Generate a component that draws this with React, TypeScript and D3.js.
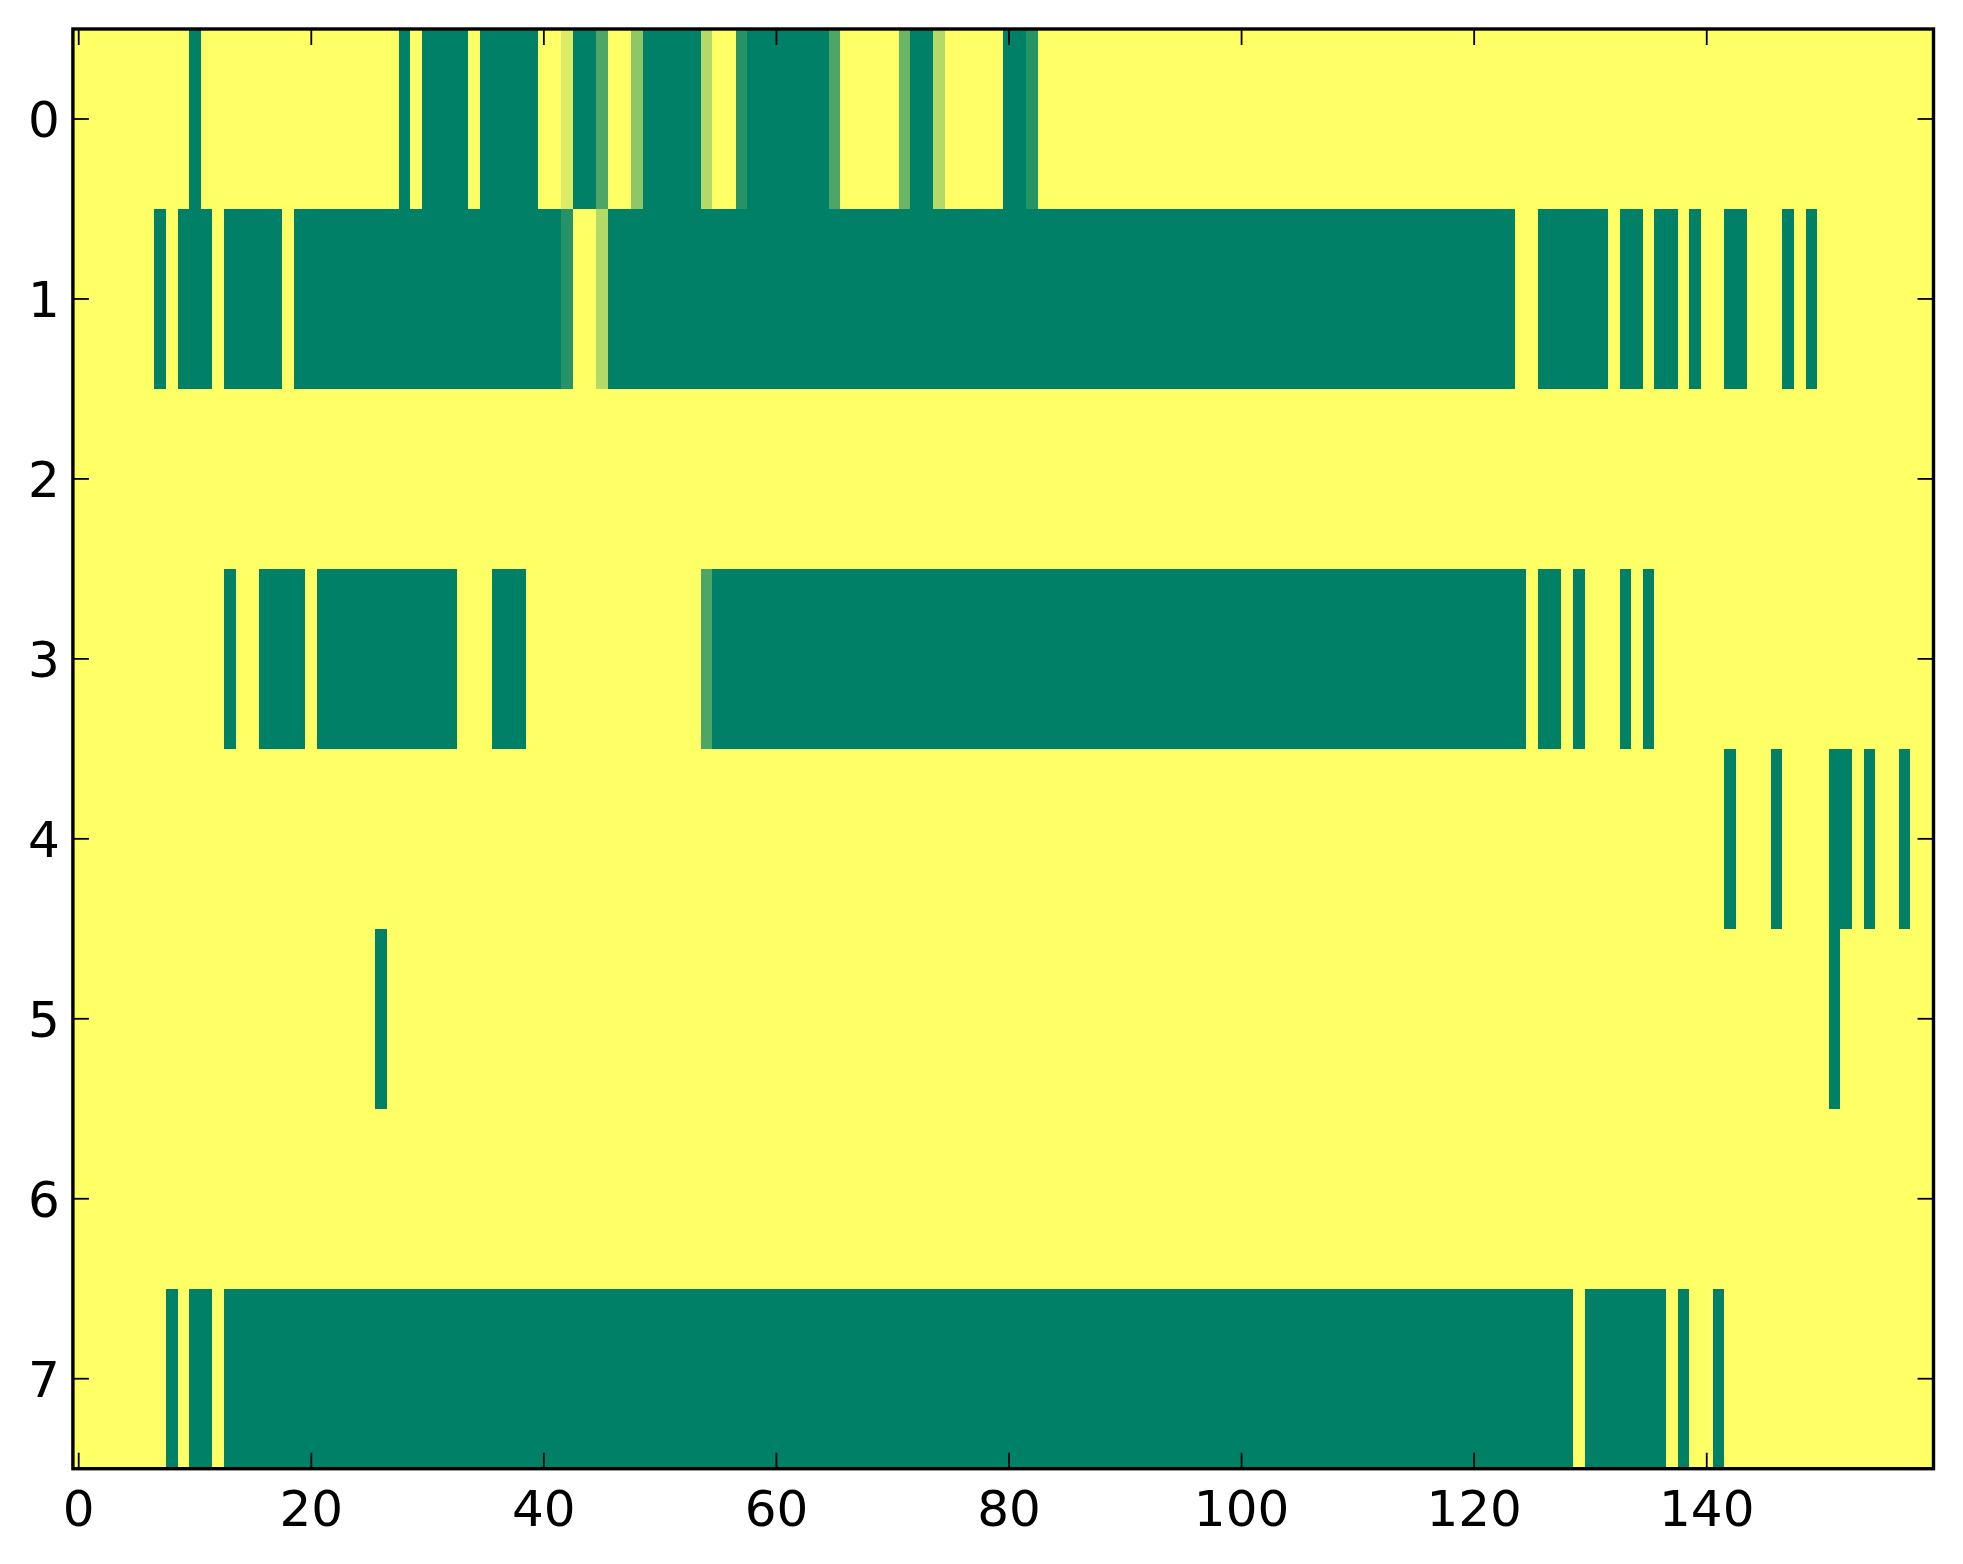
import React from "react";
import * as d3 from "d3";

// Matrix rows (160 columns each); values mapped through the "summer" colormap
const row0 = [
  1,1,1,1,1,1,1,1,1,1,0,1,1,1,1,1,1,1,1,1,
  1,1,1,1,1,1,1,1,0,1,0,0,0,0,1,0,0,0,0,0,
  1,1,0.86,0,0,0.3,1,1,0.56,0,0,0,0,0,0.7,1,1,0.15,0,0,
  0,0,0,0,0,0.3,1,1,1,1,1,0.42,0,0,0.7,1,1,1,1,1,
  0,0,0.15,1,1,1,1,1,1,1,1,1,1,1,1,1,1,1,1,1,
  1,1,1,1,1,1,1,1,1,1,1,1,1,1,1,1,1,1,1,1,
  1,1,1,1,1,1,1,1,1,1,1,1,1,1,1,1,1,1,1,1,
  1,1,1,1,1,1,1,1,1,1,1,1,1,1,1,1,1,1,1,1,
];
const row1 = [
  1,1,1,1,1,1,1,0,1,0,0,0,1,0,0,0,0,0,1,0,
  0,0,0,0,0,0,0,0,0,0,0,0,0,0,0,0,0,0,0,0,
  0,0,0.15,1,1,0.7,0,0,0,0,0,0,0,0,0,0,0,0,0,0,
  0,0,0,0,0,0,0,0,0,0,0,0,0,0,0,0,0,0,0,0,
  0,0,0,0,0,0,0,0,0,0,0,0,0,0,0,0,0,0,0,0,
  0,0,0,0,0,0,0,0,0,0,0,0,0,0,0,0,0,0,0,0,
  0,0,0,0,1,1,0,0,0,0,0,0,1,0,0,1,0,0,1,0,
  1,1,0,0,1,1,1,0,1,0,1,1,1,1,1,1,1,1,1,1,
];
const row2 = [
  1,1,1,1,1,1,1,1,1,1,1,1,1,1,1,1,1,1,1,1,
  1,1,1,1,1,1,1,1,1,1,1,1,1,1,1,1,1,1,1,1,
  1,1,1,1,1,1,1,1,1,1,1,1,1,1,1,1,1,1,1,1,
  1,1,1,1,1,1,1,1,1,1,1,1,1,1,1,1,1,1,1,1,
  1,1,1,1,1,1,1,1,1,1,1,1,1,1,1,1,1,1,1,1,
  1,1,1,1,1,1,1,1,1,1,1,1,1,1,1,1,1,1,1,1,
  1,1,1,1,1,1,1,1,1,1,1,1,1,1,1,1,1,1,1,1,
  1,1,1,1,1,1,1,1,1,1,1,1,1,1,1,1,1,1,1,1,
];
const row3 = [
  1,1,1,1,1,1,1,1,1,1,1,1,1,0,1,1,0,0,0,0,
  1,0,0,0,0,0,0,0,0,0,0,0,0,1,1,1,0,0,0,1,
  1,1,1,1,1,1,1,1,1,1,1,1,1,1,0.3,0,0,0,0,0,
  0,0,0,0,0,0,0,0,0,0,0,0,0,0,0,0,0,0,0,0,
  0,0,0,0,0,0,0,0,0,0,0,0,0,0,0,0,0,0,0,0,
  0,0,0,0,0,0,0,0,0,0,0,0,0,0,0,0,0,0,0,0,
  0,0,0,0,0,1,0,0,1,0,1,1,1,0,1,0,1,1,1,1,
  1,1,1,1,1,1,1,1,1,1,1,1,1,1,1,1,1,1,1,1,
];
const row4 = [
  1,1,1,1,1,1,1,1,1,1,1,1,1,1,1,1,1,1,1,1,
  1,1,1,1,1,1,1,1,1,1,1,1,1,1,1,1,1,1,1,1,
  1,1,1,1,1,1,1,1,1,1,1,1,1,1,1,1,1,1,1,1,
  1,1,1,1,1,1,1,1,1,1,1,1,1,1,1,1,1,1,1,1,
  1,1,1,1,1,1,1,1,1,1,1,1,1,1,1,1,1,1,1,1,
  1,1,1,1,1,1,1,1,1,1,1,1,1,1,1,1,1,1,1,1,
  1,1,1,1,1,1,1,1,1,1,1,1,1,1,1,1,1,1,1,1,
  1,1,0,1,1,1,0,1,1,1,1,0,0,1,0,1,1,0,1,1,
];
const row5 = [
  1,1,1,1,1,1,1,1,1,1,1,1,1,1,1,1,1,1,1,1,
  1,1,1,1,1,1,0,1,1,1,1,1,1,1,1,1,1,1,1,1,
  1,1,1,1,1,1,1,1,1,1,1,1,1,1,1,1,1,1,1,1,
  1,1,1,1,1,1,1,1,1,1,1,1,1,1,1,1,1,1,1,1,
  1,1,1,1,1,1,1,1,1,1,1,1,1,1,1,1,1,1,1,1,
  1,1,1,1,1,1,1,1,1,1,1,1,1,1,1,1,1,1,1,1,
  1,1,1,1,1,1,1,1,1,1,1,1,1,1,1,1,1,1,1,1,
  1,1,1,1,1,1,1,1,1,1,1,0,1,1,1,1,1,1,1,1,
];
const row6 = [
  1,1,1,1,1,1,1,1,1,1,1,1,1,1,1,1,1,1,1,1,
  1,1,1,1,1,1,1,1,1,1,1,1,1,1,1,1,1,1,1,1,
  1,1,1,1,1,1,1,1,1,1,1,1,1,1,1,1,1,1,1,1,
  1,1,1,1,1,1,1,1,1,1,1,1,1,1,1,1,1,1,1,1,
  1,1,1,1,1,1,1,1,1,1,1,1,1,1,1,1,1,1,1,1,
  1,1,1,1,1,1,1,1,1,1,1,1,1,1,1,1,1,1,1,1,
  1,1,1,1,1,1,1,1,1,1,1,1,1,1,1,1,1,1,1,1,
  1,1,1,1,1,1,1,1,1,1,1,1,1,1,1,1,1,1,1,1,
];
const row7 = [
  1,1,1,1,1,1,1,1,0,1,0,0,1,0,0,0,0,0,0,0,
  0,0,0,0,0,0,0,0,0,0,0,0,0,0,0,0,0,0,0,0,
  0,0,0,0,0,0,0,0,0,0,0,0,0,0,0,0,0,0,0,0,
  0,0,0,0,0,0,0,0,0,0,0,0,0,0,0,0,0,0,0,0,
  0,0,0,0,0,0,0,0,0,0,0,0,0,0,0,0,0,0,0,0,
  0,0,0,0,0,0,0,0,0,0,0,0,0,0,0,0,0,0,0,0,
  0,0,0,0,0,0,0,0,0,1,0,0,0,0,0,0,0,1,0,1,
  1,0,1,1,1,1,1,1,1,1,1,1,1,1,1,1,1,1,1,1,
];

const rows = [row0, row1, row2, row3, row4, row5, row6, row7];
const xTicks = [0, 20, 40, 60, 80, 100, 120, 140];
const yTicks = [0, 1, 2, 3, 4, 5, 6, 7];

const W = 1963;
const H = 1564;
const LEFT = 72.9;
const RIGHT = 1933.5;
const TOP = 29;
const BOTTOM = 1468.7;
const FONT = 50;
const TICK_LEN = 16;

export default function App() {
  const nCols = row0.length;
  const nRows = rows.length;
  const x = d3.scaleLinear().domain([-0.5, nCols - 0.5]).range([LEFT, RIGHT]);
  const y = d3.scaleLinear().domain([-0.5, nRows - 0.5]).range([TOP, BOTTOM]);
  // matplotlib "summer" colormap: (v, 0.5 + 0.5v, 0.4)
  const color = d3
    .scaleLinear<string>()
    .domain([0, 1])
    .range(["rgb(0,128,102)", "rgb(255,255,102)"])
    .interpolate(d3.interpolateRgb);

  const cells: React.ReactNode[] = [];
  rows.forEach((row, i) => {
    row.forEach((v, j) => {
      const x0 = x(j - 0.5);
      const x1 = x(j + 0.5);
      const y0 = y(i - 0.5);
      const y1 = y(i + 0.5);
      cells.push(
        <rect
          key={`${i}-${j}`}
          x={x0}
          y={y0}
          width={x1 - x0 + 0.6}
          height={y1 - y0 + 0.6}
          fill={color(v)}
        />
      );
    });
  });

  const font = "'DejaVu Sans', sans-serif";
  return (
    <svg
      width={W}
      height={H}
      style={{ position: "absolute", left: 0, top: 0, background: "#fff" }}
    >
      <rect x={0} y={0} width={W} height={H} fill="#fff" />
      <g shapeRendering="crispEdges">{cells}</g>
      {/* ticks */}
      <g stroke="#000" strokeWidth={1.8}>
        {xTicks.map((t) => (
          <g key={`xt${t}`}>
            <line x1={x(t)} x2={x(t)} y1={BOTTOM} y2={BOTTOM - TICK_LEN} />
            <line x1={x(t)} x2={x(t)} y1={TOP} y2={TOP + TICK_LEN} />
          </g>
        ))}
        {yTicks.map((t) => (
          <g key={`yt${t}`}>
            <line x1={LEFT} x2={LEFT + TICK_LEN} y1={y(t)} y2={y(t)} />
            <line x1={RIGHT} x2={RIGHT - TICK_LEN} y1={y(t)} y2={y(t)} />
          </g>
        ))}
      </g>
      {/* spines */}
      <rect
        x={LEFT}
        y={TOP}
        width={RIGHT - LEFT}
        height={BOTTOM - TOP}
        fill="none"
        stroke="#000"
        strokeWidth={3.4}
      />
      {/* tick labels */}
      <g fontFamily={font} fontSize={FONT} fill="#000">
        {xTicks.map((t) => (
          <text key={`xl${t}`} x={x(t)} y={1526} textAnchor="middle">
            {t}
          </text>
        ))}
        {yTicks.map((t) => (
          <text
            key={`yl${t}`}
            x={LEFT - 13}
            y={y(t) + FONT * 0.729 * 0.5}
            textAnchor="end"
          >
            {t}
          </text>
        ))}
      </g>
    </svg>
  );
}
